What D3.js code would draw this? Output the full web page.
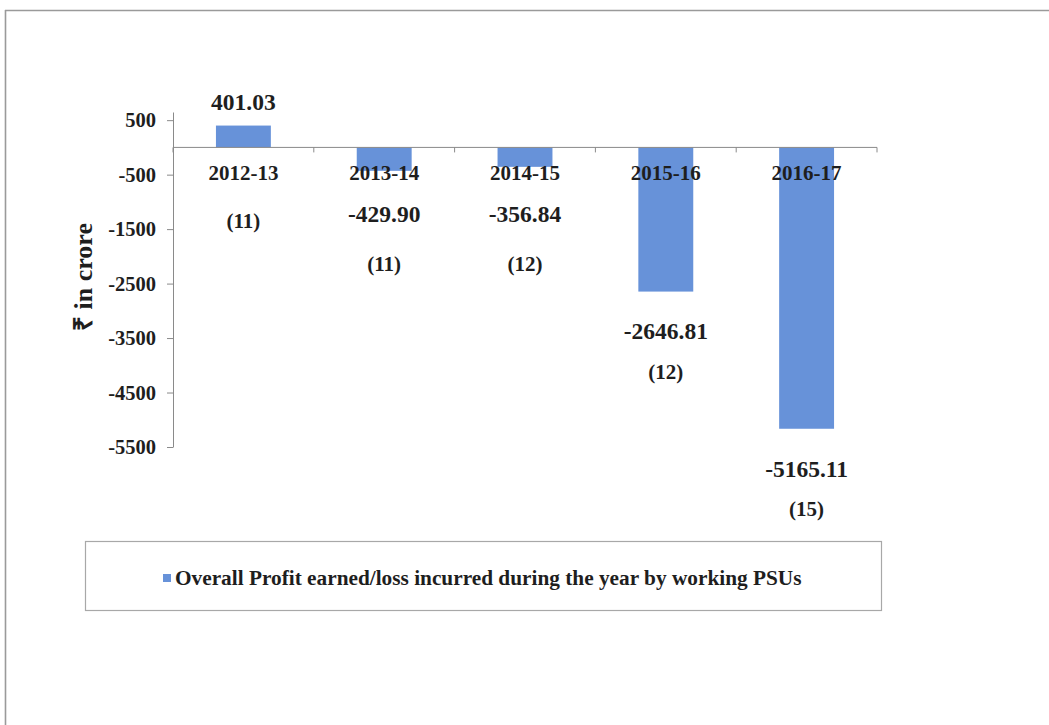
<!DOCTYPE html>
<html>
<head>
<meta charset="utf-8">
<script src="https://cdn.jsdelivr.net/npm/d3@7"></script>
<style>
  html, body { margin: 0; padding: 0; background: #fff; }
  svg { display: block; }
  text { font-family: "Liberation Serif", "Times New Roman", serif; font-weight: bold; fill: #1e1e1e; }
</style>
</head>
<body>
<svg id="chart" width="1049" height="725"></svg>
<script>
// Year-wise profit / loss of working PSUs (₹ crore) and number of PSUs in each year
const categories = ["2012-13", "2013-14", "2014-15", "2015-16", "2016-17"];
const profitLoss = [401.03, -429.90, -356.84, -2646.81, -5165.11];
const psuCounts = [11, 11, 12, 12, 15];
const yTicks = [500, -500, -1500, -2500, -3500, -4500, -5500];
const yDomain = [-5500, 650];
const seriesName = "Overall Profit earned/loss incurred during the year by working PSUs";
const axisTitle = "₹ in crore";

const barColor = "#6792d9";
const axisColor = "#8a8a8a";

const svg = d3.select("#chart");

// outer frame (top and left edges)
svg.append("line").attr("x1", 5).attr("x2", 1049).attr("y1", 10.5).attr("y2", 10.5)
  .attr("stroke", "#9a9a9a").attr("stroke-width", 1.6);
svg.append("line").attr("x1", 5.5).attr("x2", 5.5).attr("y1", 10).attr("y2", 725)
  .attr("stroke", "#9a9a9a").attr("stroke-width", 1.6);

const plot = { left: 173, right: 877, top: 112, bottom: 447 };

const x = d3.scaleBand()
  .domain(categories)
  .range([plot.left, plot.right])
  .paddingInner(0.61)
  .paddingOuter(0.305);

const y = d3.scaleLinear()
  .domain(yDomain)
  .range([plot.bottom, plot.top]);

// y axis, plain integer labels with an ASCII hyphen for negatives
const yAxis = svg.append("g")
  .attr("transform", `translate(${plot.left},0)`)
  .call(d3.axisLeft(y).tickValues(yTicks).tickFormat(d => String(d))
    .tickSize(6).tickPadding(11).tickSizeOuter(0));
yAxis.select(".domain").attr("stroke", axisColor);
yAxis.selectAll(".tick line").attr("stroke", axisColor);
yAxis.selectAll(".tick text")
  .attr("font-family", "Liberation Serif, serif")
  .attr("font-size", 20.5)
  .attr("font-weight", "bold")
  .attr("fill", "#1e1e1e");

// bars
svg.append("g").selectAll("rect")
  .data(categories)
  .join("rect")
  .attr("x", d => x(d))
  .attr("width", x.bandwidth())
  .attr("y", (d, i) => Math.min(y(profitLoss[i]), y(0)))
  .attr("height", (d, i) => Math.abs(y(profitLoss[i]) - y(0)))
  .attr("fill", barColor);

// category axis along zero
const y0 = y(0);
svg.append("line")
  .attr("x1", plot.left).attr("x2", plot.right)
  .attr("y1", y0).attr("y2", y0)
  .attr("stroke", axisColor);
const step = x.step();
svg.append("g").selectAll("line")
  .data(d3.range(categories.length + 1))
  .join("line")
  .attr("x1", k => plot.left + k * step)
  .attr("x2", k => plot.left + k * step)
  .attr("y1", y0).attr("y2", y0 + 5)
  .attr("stroke", axisColor);

const cx = d => x(d) + x.bandwidth() / 2;

// category labels drawn just under the zero line
svg.append("g").selectAll("text")
  .data(categories)
  .join("text")
  .attr("x", d => cx(d))
  .attr("y", y0 + 26)
  .attr("dy", "0.33em")
  .attr("text-anchor", "middle")
  .attr("font-size", 21)
  .text(d => d);

// value labels and PSU counts: above a profit bar, below a loss bar
// (kept clear of the category labels when the bar is short)
const valueY = i => profitLoss[i] >= 0
  ? y(profitLoss[i]) - 23
  : Math.max(y(profitLoss[i]) + 40, y0 + 67);
const countY = i => profitLoss[i] >= 0
  ? y0 + 74
  : Math.max(valueY(i) + 40, y0 + 117);

svg.append("g").selectAll("text")
  .data(categories)
  .join("text")
  .attr("x", d => cx(d))
  .attr("y", (d, i) => valueY(i))
  .attr("dy", "0.33em")
  .attr("text-anchor", "middle")
  .attr("font-size", 23.5)
  .text((d, i) => profitLoss[i].toFixed(2));

svg.append("g").selectAll("text")
  .data(categories)
  .join("text")
  .attr("x", d => cx(d))
  .attr("y", (d, i) => countY(i))
  .attr("dy", "0.33em")
  .attr("text-anchor", "middle")
  .attr("font-size", 21)
  .text((d, i) => `(${psuCounts[i]})`);

// y axis title
svg.append("text")
  .attr("transform", "translate(92,277) rotate(-90)")
  .attr("text-anchor", "middle")
  .attr("font-size", 26)
  .text(axisTitle);

// legend
const legend = svg.append("g");
legend.append("rect")
  .attr("x", 85.5).attr("y", 541.5).attr("width", 796).attr("height", 69)
  .attr("fill", "none").attr("stroke", "#a8a8a8").attr("stroke-width", 1.2);
legend.append("rect")
  .attr("x", 163).attr("y", 574).attr("width", 8).attr("height", 8)
  .attr("fill", barColor);
legend.append("text")
  .attr("x", 175).attr("y", 578)
  .attr("dy", "0.33em")
  .attr("font-size", 21.3)
  .text(seriesName);
</script>
</body>
</html>
